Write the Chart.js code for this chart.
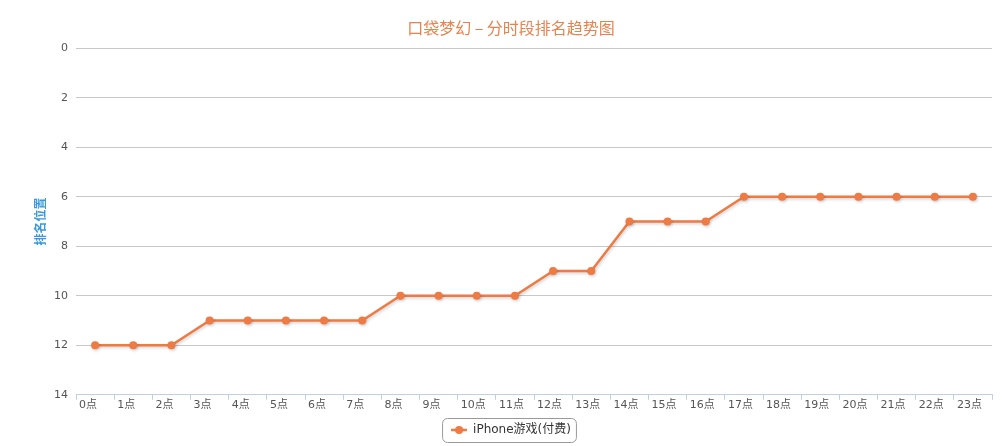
<!DOCTYPE html>
<html>
<head>
<meta charset="utf-8">
<script src="https://cdn.jsdelivr.net/npm/chart.js@4"></script>
<style>
  html, body { margin: 0; padding: 0; background: #fff; }
  #wrap { width: 1006px; height: 446px; }
</style>
</head>
<body>
<div id="wrap"><canvas id="rankChart"></canvas></div>
<script>
const hours = ["0点", "1点", "2点", "3点", "4点", "5点", "6点", "7点", "8点", "9点", "10点", "11点",
  "12点", "13点", "14点", "15点", "16点", "17点", "18点", "19点", "20点", "21点", "22点", "23点"];
const ranks = [12, 12, 12, 11, 11, 11, 11, 11, 10, 10, 10, 10, 9, 9, 7, 7, 7, 6, 6, 6, 6, 6, 6, 6];
const seriesName = "iPhone游戏(付费)";
const lineColor = "#EE7A44";

// small line+dot marker for the legend
function legendMarker() {
  const c = document.createElement("canvas");
  c.width = 16;
  c.height = 10;
  const g = c.getContext("2d");
  g.strokeStyle = lineColor;
  g.lineWidth = 2.5;
  g.beginPath();
  g.moveTo(0, 5);
  g.lineTo(16, 5);
  g.stroke();
  g.fillStyle = lineColor;
  g.beginPath();
  g.arc(8, 5, 4, 0, Math.PI * 2);
  g.fill();
  return c;
}

const lineShadow = {
  id: "lineShadow",
  beforeDatasetsDraw(chart) {
    const ctx = chart.ctx;
    ctx.save();
    ctx.shadowColor = "rgba(0,0,0,0.18)";
    ctx.shadowBlur = 3;
    ctx.shadowOffsetX = 1;
    ctx.shadowOffsetY = 1.5;
  },
  afterDatasetsDraw(chart) {
    chart.ctx.restore();
  },
};

const legendFrame = {
  id: "legendFrame",
  afterDraw(chart) {
    const box = chart.legend.legendHitBoxes[0];
    if (!box) return;
    const ctx = chart.ctx;
    const x = box.left - 9, y = box.top - 6, w = box.width + 14, h = box.height + 12;
    ctx.save();
    ctx.strokeStyle = "#999";
    ctx.lineWidth = 1;
    ctx.beginPath();
    ctx.roundRect(x + 0.5, y + 0.5, w, h, 5);
    ctx.stroke();
    ctx.restore();
  },
};

function initChart() {
  const ctx = document.getElementById("rankChart").getContext("2d");
  new Chart(ctx, {
    type: "line",
    data: {
      labels: hours,
      datasets: [
        {
          label: seriesName,
          data: ranks,
          borderColor: lineColor,
          backgroundColor: lineColor,
          borderWidth: 2.5,
          pointRadius: 4,
          pointHoverRadius: 5,
          pointBorderWidth: 0,
          tension: 0,
        },
      ],
    },
    options: {
      responsive: true,
      maintainAspectRatio: false,
      animation: false,
      layout: { padding: { left: 30, right: 14, top: 0, bottom: 0 } },
      plugins: {
        title: {
          display: true,
          text: "口袋梦幻 – 分时段排名趋势图",
          color: "#E8834F",
          font: { family: "'Noto Sans CJK SC', 'DejaVu Sans', sans-serif", size: 16, weight: "normal" },
          padding: { top: 18, bottom: 11 },
        },
        legend: {
          position: "bottom",
          labels: {
            usePointStyle: true,
            pointStyleWidth: 16,
            color: "#333",
            padding: 10,
            font: { family: "'DejaVu Sans', 'Noto Sans CJK SC', sans-serif", size: 12 },
            generateLabels(chart) {
              return chart.data.datasets.map((ds, i) => ({
                text: ds.label,
                fillStyle: ds.backgroundColor,
                strokeStyle: ds.borderColor,
                pointStyle: legendMarker(),
                fontColor: "#333",
                datasetIndex: i,
                hidden: false,
              }));
            },
          },
        },
        tooltip: { enabled: true },
      },
      scales: {
        x: {
          offset: true,
          afterFit(scale) {
            scale.height += 3;
          },
          grid: {
            offset: true,
            drawOnChartArea: false,
            drawTicks: true,
            tickLength: 5,
            color: "#C0D0E0",
          },
          border: { color: "#C0D0E0" },
          ticks: {
            align: "start",
            labelOffset: -16,
            maxRotation: 0,
            autoSkip: false,
            padding: -1,
            color: "#555",
            font: { family: "'DejaVu Sans', 'Noto Sans CJK SC', sans-serif", size: 11 },
          },
        },
        y: {
          reverse: true,
          min: 0,
          max: 14,
          afterFit(scale) {
            scale.width = 46;
          },
          grid: { color: "#C8C8C8", drawTicks: false },
          border: { display: false },
          ticks: {
            stepSize: 2,
            padding: 8,
            color: "#555",
            font: { family: "'DejaVu Sans', sans-serif", size: 11 },
          },
          title: {
            display: true,
            text: "排名位置",
            color: "#3A9AD9",
            padding: { top: 3, bottom: 0 },
            font: { family: "'Noto Sans CJK SC', sans-serif", size: 12, weight: "bold" },
          },
        },
      },
    },
    plugins: [lineShadow, legendFrame],
  });
}

document.addEventListener("DOMContentLoaded", () => {
  initChart();
});
</script>
</body>
</html>
